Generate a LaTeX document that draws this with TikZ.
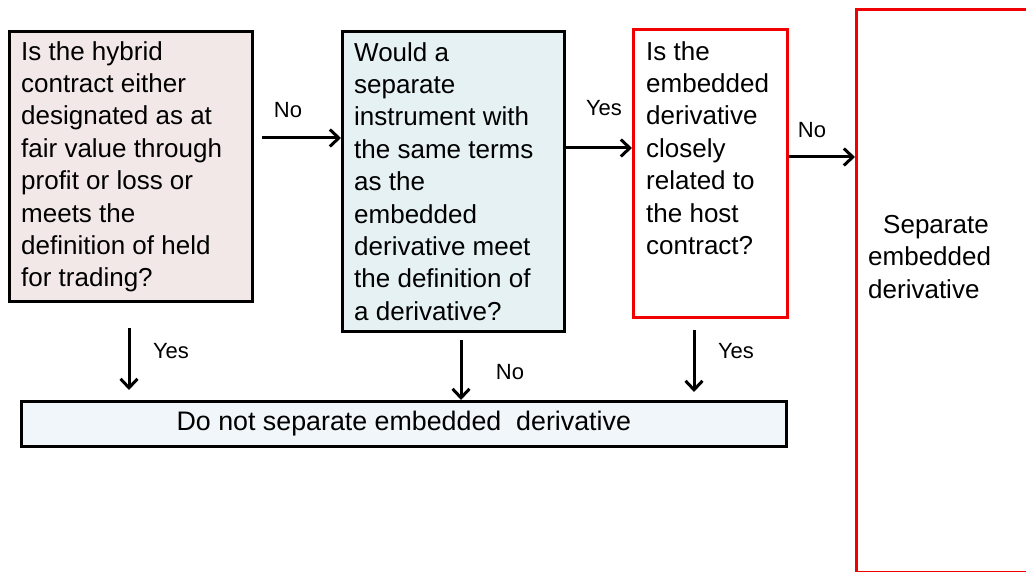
\documentclass[tikz,border=0pt]{standalone}
\usepackage{fontspec}
\setmainfont{Liberation Sans}
\usepackage{xcolor}
\usetikzlibrary{arrows.meta,positioning}

\definecolor{hybridfill}{RGB}{243,232,232}
\definecolor{instrfill}{RGB}{230,241,243}
\definecolor{keepfill}{RGB}{240,246,249}
\definecolor{flagred}{RGB}{240,0,0}

\begin{document}
\begin{tikzpicture}[
    x=1pt, y=-1pt,
    qbox/.style={rectangle, draw, line width=2.6pt, anchor=north west, inner sep=0pt},
    redbox/.style={qbox, draw=flagred, fill=white},
    qtext/.style={anchor=north west, align=left, inner sep=0pt, font=\fontsize{26}{32.4}\selectfont},
    lbl/.style={inner sep=0pt, font=\fontsize{22}{24}\selectfont},
    arrow/.style={-{Straight Barb[length=9pt,width=17pt,line width=3pt]}, line width=3pt}
]
    \useasboundingbox (0,0) rectangle (1026,572);
    % Question boxes
    \node[qbox, fill=hybridfill, minimum width=243pt, minimum height=270pt] (q1) at (8,30) {};
    \node[qbox, fill=instrfill, minimum width=222pt, minimum height=300pt] (q2) at (341,30) {};
    \node[redbox, minimum width=154pt, minimum height=288pt] (q3) at (632,28) {};
    % Outcome boxes
    \node[redbox, minimum width=200pt, minimum height=563pt] (sep) at (855,8) {};
    \node[qbox, fill=keepfill, minimum width=765pt, minimum height=45pt,
          font=\fontsize{26.8}{30}\selectfont] (keep) at (20,400) {Do not separate embedded\ \ derivative};
    % Box texts
    \node[qtext] (t1) at (21,41) {Is the hybrid\\contract either\\designated as at\\fair value through\\profit or loss or\\meets the\\definition of held\\for trading?};
    \node[qtext] (t2) at (354,42) {Would a\\separate\\instrument with\\the same terms\\as the\\embedded\\derivative meet\\the definition of\\a derivative?};
    \node[qtext] (t3) at (646,41) {Is the\\embedded\\derivative\\closely\\related to\\the host\\contract?};
    \node[qtext] (t4) at (868,215) {\hspace*{15pt}Separate\\embedded\\derivative};
    % Arrows across
    \coordinate (a1) at (262,138);
    \coordinate (a2) at (565,148);
    \coordinate (a3) at (786,157);
    \draw[arrow] (a1) -- (a1 -| q2.west);
    \draw[arrow] (a2 -| q2.east) -- (a2 -| q3.west);
    \draw[arrow] (a3 -| q3.east) -- (a3 -| sep.west);
    \node[lbl] (no1) at (288,110) {No};
    \node[lbl] (yes1) at (604,108) {Yes};
    \node[lbl] (no2) at (812,130) {No};
    % Arrows down
    \coordinate (d1) at (129,328);
    \coordinate (d2) at (461,340);
    \coordinate (d3) at (694,330);
    \draw[arrow, shorten >=10pt] (d1) -- (d1 |- keep.north);
    \draw[arrow] (d2) -- (d2 |- keep.north);
    \draw[arrow, shorten >=8pt] (d3) -- (d3 |- keep.north);
    \node[lbl] (yes2) at (171,351) {Yes};
    \node[lbl] (no3) at (510,372) {No};
    \node[lbl] (yes3) at (736,351) {Yes};
\end{tikzpicture}
\end{document}
